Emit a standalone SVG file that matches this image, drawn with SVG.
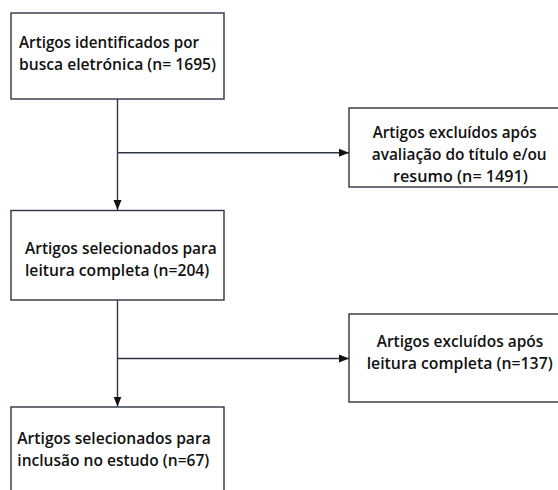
<svg xmlns="http://www.w3.org/2000/svg" width="558" height="490" viewBox="0 0 558 490">
<style>
.box{fill:#fff;stroke:#2e3440;stroke-width:1.4}
.ln{fill:none;stroke:#2e3440;stroke-width:1.4}
text{font-family:"Open Sans","Noto Sans","Liberation Sans",sans-serif;font-weight:600;font-size:17px;fill:#111}
</style>
<defs>
<marker id="ah" viewBox="0 0 10 10" refX="10" refY="5" markerWidth="10" markerHeight="10" markerUnits="userSpaceOnUse" orient="auto">
<path d="M0,1 L10,5 L0,9 Z" fill="#111"/>
</marker>
</defs>
<rect width="558" height="490" fill="#fff"/>
<g id="connectors">
<line class="ln" x1="117.5" y1="99" x2="117.5" y2="210" marker-end="url(#ah)"/>
<line class="ln" x1="117.5" y1="152.7" x2="349" y2="152.7" marker-end="url(#ah)"/>
<line class="ln" x1="117.5" y1="300" x2="117.5" y2="406.5" marker-end="url(#ah)"/>
<line class="ln" x1="117.5" y1="358.5" x2="349" y2="358.5" marker-end="url(#ah)"/>
</g>
<g id="n1">
<rect class="box" x="11" y="13" width="213" height="86"/>
<text x="19" y="47.5" textLength="180" lengthAdjust="spacingAndGlyphs">Artigos identificados por</text>
<text x="19" y="70" textLength="197" lengthAdjust="spacingAndGlyphs">busca eletrónica (n= 1695)</text>
</g>
<g id="n2">
<rect class="box" x="349" y="108" width="215" height="79"/>
<text x="372.7" y="138.3" textLength="164" lengthAdjust="spacingAndGlyphs">Artigos excluídos após</text>
<text x="371.7" y="160" textLength="175" lengthAdjust="spacingAndGlyphs">avaliação do título e/ou</text>
<text x="393" y="181.7" textLength="135" lengthAdjust="spacingAndGlyphs">resumo (n= 1491)</text>
</g>
<g id="n3">
<rect class="box" x="11" y="210.5" width="213" height="89.5"/>
<text x="25" y="254" textLength="191.7" lengthAdjust="spacingAndGlyphs">Artigos selecionados para</text>
<text x="25" y="276" textLength="184.3" lengthAdjust="spacingAndGlyphs">leitura completa (n=204)</text>
</g>
<g id="n4">
<rect class="box" x="349" y="314" width="215" height="88"/>
<text x="376.7" y="347.3" textLength="166.6" lengthAdjust="spacingAndGlyphs">Artigos excluídos após</text>
<text x="366.7" y="368.5" textLength="186" lengthAdjust="spacingAndGlyphs">leitura completa (n=137)</text>
</g>
<g id="n5">
<rect class="box" x="11" y="407" width="213" height="90"/>
<text x="17.3" y="444" textLength="193.4" lengthAdjust="spacingAndGlyphs">Artigos selecionados para</text>
<text x="17.3" y="466" textLength="192" lengthAdjust="spacingAndGlyphs">inclusão no estudo (n=67)</text>
</g>
</svg>
